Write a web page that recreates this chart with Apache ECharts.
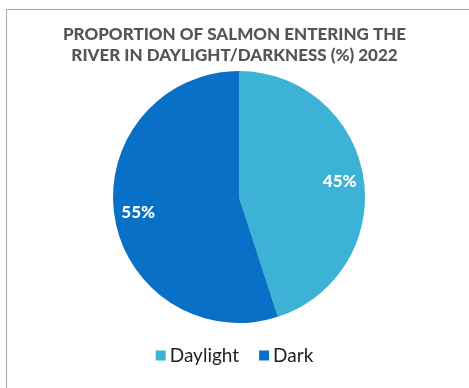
<!DOCTYPE html>
<html><head><meta charset="utf-8">
<script src="https://cdn.jsdelivr.net/npm/echarts@6/dist/echarts.min.js"></script>
<style>html,body{margin:0;padding:0;background:#fff}#c{width:469px;height:388px}</style>
</head><body><div id="c"></div>
<script>
const categories = ['Daylight', 'Dark'];
const values = [45, 55];
const colors = ['#3CB3D6', '#0870C6'];
const titleLines = ['PROPORTION OF SALMON ENTERING THE', 'RIVER IN DAYLIGHT/DARKNESS (%) 2022'];

const data = categories.map((n, i) => ({ name: n, value: values[i], itemStyle: { color: colors[i] } }));
const chart = echarts.init(document.getElementById('c'));
chart.setOption({
  animation: false,
  graphic: [{ type: 'rect', shape: { x: 6.5, y: 9.5, width: 480, height: 400 }, style: { fill: 'none', stroke: '#a8a8a8', lineWidth: 1 }, z: -1 }],
  title: {
    text: titleLines.join('\n'), left: 'center', top: 19,
    textStyle: { fontFamily: 'Lato', fontWeight: 900, fontSize: 17, color: '#555', lineHeight: 21 }
  },
  legend: {
    bottom: 18, left: 'center', itemWidth: 10, itemHeight: 10, itemGap: 20, icon: 'rect',
    textStyle: { fontFamily: 'Lato', fontSize: 19, color: '#222', padding: [0, 0, 0, -1] },
    data: categories
  },
  series: [
    { type: 'pie', center: [239, 197], radius: [0, 126], startAngle: 90, clockwise: true,
      label: { show: false }, labelLine: { show: false }, data: data, silent: true },
    { type: 'pie', center: [239, 197], radius: [72, 126], startAngle: 90, clockwise: true,
      itemStyle: { color: 'transparent' }, silent: true,
      label: { show: true, position: 'inside', formatter: '{c}%', color: '#fff', fontFamily: 'Lato', fontWeight: 900, fontSize: 17 },
      labelLine: { show: false },
      data: categories.map((n, i) => ({ name: n, value: values[i], itemStyle: { color: 'rgba(0,0,0,0)' } })) }
  ]
});
</script></body></html>
